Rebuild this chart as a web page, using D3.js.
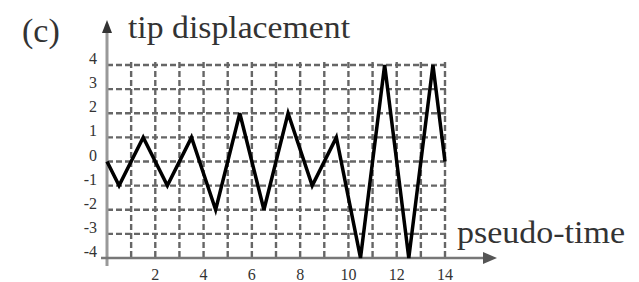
<!DOCTYPE html>
<meta charset="utf-8">
<head>
  <script src="https://d3js.org/d3.v7.min.js"></script>
  <style>
    body { margin: 0; background: #fff; }
    text { font-family: "Times New Roman", "Liberation Serif", Times, serif; fill: #333; }
  </style>
</head>
<body>
<svg id="chart"></svg>
<script>
  // pseudo-time (x) and tip displacement (y)
  var timeVals = [0, 0.5, 1.5, 2.5, 3.5, 4.5, 5.5, 6.5, 7.5, 8.5, 9.5, 10.5, 11.5, 12.5, 13.5, 14];
  var dispVals = [0, -1, 1, -1, 1, -2, 2, -2, 2, -1, 1, -4, 4, -4, 4, 0];
  var yTickVals = [4, 3, 2, 1, 0, -1, -2, -3, -4];
  var xTickVals = [2, 4, 6, 8, 10, 12, 14];
  var xGridVals = [1, 2, 3, 4, 5, 6, 7, 8, 9, 10, 11, 12, 13, 14];
  var yGridVals = [-3, -2, -1, 0, 1, 2, 3, 4];

  var W = 639, H = 282;
  var margin = {top: 65, right: 194, bottom: 24, left: 107},
      width = W - margin.left - margin.right,
      height = H - margin.top - margin.bottom;

  var svg = d3.select("#chart").attr("width", W).attr("height", H);
  var chart = svg.append("g")
      .attr("transform", "translate(" + margin.left + "," + margin.top + ")");

  var x = d3.scaleLinear().domain([0, 14]).range([0, width]);
  var y = d3.scaleLinear().domain([-4, 4]).range([height, 0]);

  // dashed grid
  chart.selectAll(".hgrid").data(yGridVals).enter().append("line")
      .attr("x1", 0).attr("x2", x(14) + 4)
      .attr("y1", function(d){ return y(d); }).attr("y2", function(d){ return y(d); })
      .attr("stroke", "#666").attr("stroke-width", 2.4)
      .attr("stroke-dasharray", "6,3");
  chart.selectAll(".vgrid").data(xGridVals).enter().append("line")
      .attr("x1", function(d){ return x(d); }).attr("x2", function(d){ return x(d); })
      .attr("y1", y(4) - 3).attr("y2", y(-4))
      .attr("stroke", "#666").attr("stroke-width", 2.4)
      .attr("stroke-dasharray", "6,3");

  // axes with arrows
  chart.append("line")
      .attr("x1", x(0)).attr("x2", x(0))
      .attr("y1", y(-4) + 8).attr("y2", -34)
      .attr("stroke", "#999").attr("stroke-width", 3);
  chart.append("path")
      .attr("d", "M" + x(0) + "," + (-45) + " L" + (x(0) - 5) + "," + (-32) + " L" + (x(0) + 5) + "," + (-32) + " Z")
      .attr("fill", "#333");
  chart.append("line")
      .attr("x1", x(0) - 6).attr("x2", x(14) + 42)
      .attr("y1", y(-4)).attr("y2", y(-4))
      .attr("stroke", "#777").attr("stroke-width", 2.5);
  chart.append("path")
      .attr("d", "M" + (x(14) + 52) + "," + y(-4) + " L" + (x(14) + 38) + "," + (y(-4) - 6) + " L" + (x(14) + 38) + "," + (y(-4) + 6) + " Z")
      .attr("fill", "#555");

  // tick labels
  chart.selectAll(".ylab").data(yTickVals).enter().append("text")
      .attr("x", -10).attr("y", function(d){ return y(d) - 1; })
      .attr("text-anchor", "end")
      .style("font-size", "16px")
      .text(function(d){ return d; });
  chart.selectAll(".xlab").data(xTickVals).enter().append("text")
      .attr("x", function(d){ return x(d); }).attr("y", y(-4) + 22)
      .attr("text-anchor", "middle")
      .style("font-size", "16px")
      .text(function(d){ return d; });

  // the displacement line
  var pts = timeVals.map(function(t, i){ return [t, dispVals[i]]; });
  chart.append("path")
      .datum(pts)
      .attr("fill", "none")
      .attr("stroke", "#000")
      .attr("stroke-width", 3.5)
      .attr("stroke-linejoin", "miter")
      .attr("d", d3.line()
        .x(function(d){ return x(d[0]); })
        .y(function(d){ return y(d[1]); }));

  // labels
  svg.append("text").attr("x", 22).attr("y", 42)
      .style("font-size", "34px").text("(c)");
  svg.append("text").attr("x", 128).attr("y", 38)
      .style("font-size", "32px")
      .attr("textLength", 222).attr("lengthAdjust", "spacingAndGlyphs")
      .text("tip displacement");
  svg.append("text").attr("x", 457).attr("y", 243)
      .style("font-size", "32px")
      .attr("textLength", 168).attr("lengthAdjust", "spacingAndGlyphs")
      .text("pseudo-time");
</script>
</body>
